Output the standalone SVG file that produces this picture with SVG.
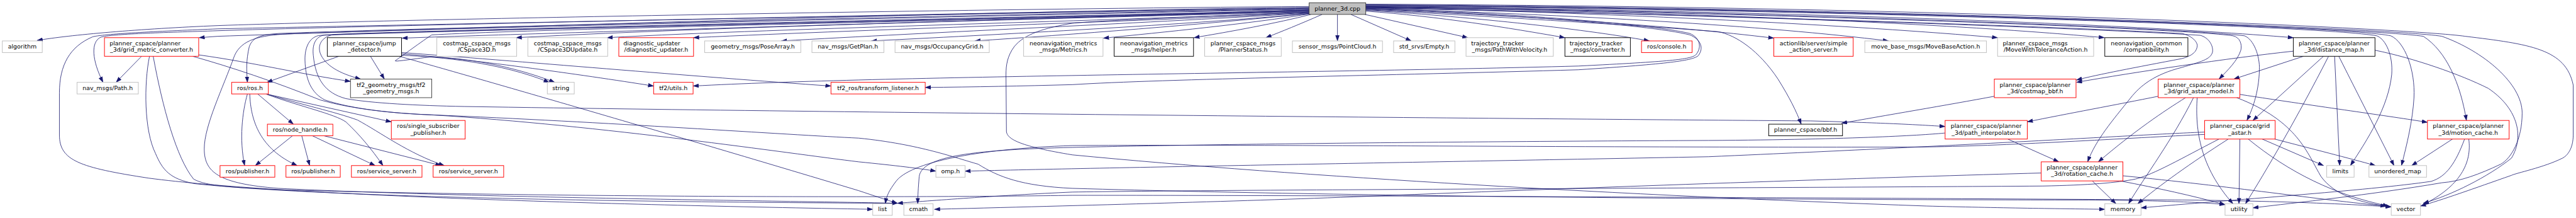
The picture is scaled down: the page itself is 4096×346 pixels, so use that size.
<svg xmlns="http://www.w3.org/2000/svg" width="4096" height="346" viewBox="0 0 4096 346">
<style>
.e{fill:none;stroke:#191970;stroke-width:1.1;marker-end:url(#a)}
rect.b{fill:#fff;stroke-width:1.3}
.g{stroke:#bfbfbf}
.r{stroke:#ff0000}
.k{stroke:#000}
.d{stroke:#404040}
text{font-family:"DejaVu Sans","Liberation Sans",sans-serif;font-size:12.8px;fill:#000;text-anchor:middle}
text.s{text-anchor:start}
</style>
<defs>
<marker id="a" viewBox="0 0 13 9" refX="12" refY="4.5" markerWidth="13" markerHeight="9" markerUnits="userSpaceOnUse" orient="auto"><path d="M0,0 L13,4.5 L0,9 z" fill="#191970"/></marker>
</defs>
<rect width="4096" height="346" fill="#fff"/>
<g transform="scale(0.73815)">
<g id="edges">
<path class="e" d="M2820,14 C2200,18 900,40 470,55 C300,62 150,75 80,87"/>
<path class="e" d="M2820,16 C2200,22 1000,60 470,78 L429,81"/>
<path class="e" d="M2820,17 C2200,25 800,55 470,66 C350,70 240,73 217,80 C195,90 198,130 222,177"/>
<path class="e" d="M2820,18 C2200,27 800,55 470,62 C350,67 230,72 200,79 C150,100 128,140 128,200 L128,290 C128,345 170,360 320,383 C600,420 1300,440 1880,450"/>
<path class="e" d="M2820,19 C2200,30 900,60 600,72 C560,75 545,80 537,100 C530,130 531,150 533,177"/>
<path class="e" d="M2820,20 C2200,32 900,62 620,73 C560,76 520,85 505,120 C480,190 440,270 440,320 C440,370 470,395 600,405 C1000,425 1700,432 1933,437"/>
<path class="e" d="M2820,21 C2300,40 1200,70 866,82"/>
<path class="e" d="M2820,22 C2300,35 1000,62 720,74 C695,78 683,95 690,115 C700,140 730,158 777,170"/>
<path class="e" d="M2820,22 C2300,37 1000,64 700,75 C680,78 672,95 675,120 C680,170 700,200 745,212 C800,222 900,227 1000,229 C2000,245 3500,257 3900,260 C4050,264 4130,268 4190,272"/>
<path class="e" d="M2820,23 C2300,38 1000,64 690,76 C668,78 656,100 657,130 C658,170 670,200 700,215 C760,235 850,244 930,247 C1300,270 1700,330 1850,348 C1930,356 1980,362 2016,368"/>
<path class="e" d="M2820,24 C2300,40 1200,60 930,75 C900,95 860,125 852,130 C846,134 880,128 930,122 C1000,125 1100,140 1195,177"/>
<path class="e" d="M2820,25 C2300,40 1600,55 1112,81"/>
<path class="e" d="M2820,26 C2400,45 1700,60 1308,81"/>
<path class="e" d="M2820,27 C2500,45 1900,62 1494,81"/>
<path class="e" d="M2820,28 C2500,48 2000,70 1683,88"/>
<path class="e" d="M2820,29 C2600,50 2200,72 1877,88"/>
<path class="e" d="M2820,29 C2600,52 2300,75 2100,88"/>
<path class="e" d="M2820,30 C2700,50 2500,70 2377,82"/>
<path class="e" d="M2824,31 C2750,50 2650,68 2572,81"/>
<path class="e" d="M2848,31 C2800,52 2760,68 2727,81"/>
<path class="e" d="M2881,31 L2881,88"/>
<path class="e" d="M2910,31 L3040,88"/>
<path class="e" d="M2940,31 L3162,81"/>
<path class="e" d="M2942,24 C3100,35 3250,60 3371,81"/>
<path class="e" d="M2942,22 C3150,35 3400,60 3553,88"/>
<path class="e" d="M2942,18 C3200,25 3550,50 3640,72 C3660,80 3668,100 3653,118 C3640,128 3600,132 3400,142 C2800,158 1900,163 1493,185"/>
<path class="e" d="M2942,19 C3200,28 3550,52 3640,75 C3662,84 3672,102 3658,120 C3645,130 3600,137 3400,150 C3000,162 2500,170 2310,182 C2200,185 2100,187 1993,188"/>
<path class="e" d="M2942,20 C3300,35 3600,55 3821,82"/>
<path class="e" d="M2942,18 C3400,32 3800,55 4068,88"/>
<path class="e" d="M2942,21 C3300,40 3600,60 3700,68 C3740,75 3790,110 3830,170 C3855,210 3870,240 3880,267"/>
<path class="e" d="M2942,16 C3500,28 4000,55 4303,81"/>
<path class="e" d="M2942,15 C3600,25 4200,50 4533,81"/>
<path class="e" d="M2942,14 C3700,22 4500,45 4940,81"/>
<path class="e" d="M2942,17 C3600,30 4400,55 4700,72 C4720,76 4735,90 4733,100 C4731,112 4722,120 4700,126 C4600,145 4520,160 4473,172"/>
<path class="e" d="M2942,16 C3600,30 4500,60 4740,76 C4760,82 4768,100 4766,112 C4762,128 4740,133 4700,145 C4640,160 4610,185 4590,210 C4550,260 4515,300 4497,348"/>
<path class="e" d="M2942,15 C3700,25 4700,60 4810,77 C4825,80 4830,95 4827,108 C4820,130 4800,150 4780,170"/>
<path class="e" d="M2942,14 C3800,25 4700,60 4835,77 C4855,85 4868,120 4867,150 C4866,200 4850,240 4840,259"/>
<path class="e" d="M2942,13 C3900,20 5000,55 5120,77 C5140,85 5155,120 5152,160 C5145,230 5100,300 5063,356"/>
<path class="e" d="M2942,12 C3900,18 5050,55 5150,77 C5180,90 5203,150 5200,210 C5197,260 5185,310 5173,356"/>
<path class="e" d="M2942,11 C4000,18 5100,60 5220,78 C5270,110 5300,180 5313,259"/>
<path class="e" d="M2942,10 C4000,16 5150,60 5260,78 C5350,110 5433,180 5433,243 C5433,300 5410,340 5387,353 C5340,375 5300,390 5260,393 C5100,420 4950,435 4853,447"/>
<path class="e" d="M2942,9 C4200,14 5200,62 5310,78 C5450,95 5527,105 5543,183 L5543,290 C5543,320 5530,335 5520,340 C5480,360 5420,372 5410,377 C5330,405 5260,430 5214,443"/>
<path class="e" d="M2820,26 C2600,35 2350,45 2310,50 C2250,60 2207,73 2185,100 C2170,120 2167,140 2167,160 L2168,283 C2170,300 2200,315 2310,333 C2800,380 3500,420 4150,443 C4300,447 4450,449 4534,450"/>
<path class="e" d="M305,121 L250,177"/>
<path class="e" d="M428,118 C550,135 650,160 755,175"/>
<path class="e" d="M322,121 C310,180 310,280 335,330 C350,365 365,385 420,395 C700,425 1400,435 1933,437"/>
<path class="e" d="M330,121 C350,230 380,340 417,385 C440,398 480,402 600,408 C1200,425 2000,425 2310,420 C3000,420 4400,428 4700,430 C4900,432 5050,438 5151,445"/>
<path class="e" d="M415,121 C500,145 590,175 690,215 C760,235 850,244 930,247 C1300,262 1700,290 1850,297 C1980,310 2060,340 2107,353 C2150,380 2200,400 2310,405 C3000,425 4000,430 4500,430 C4650,431 4750,435 4793,440"/>
<path class="e" d="M730,121 L575,177"/>
<path class="e" d="M798,121 L828,170"/>
<path class="e" d="M865,113 C1100,130 1500,165 1790,185"/>
<path class="e" d="M865,116 C1000,125 1250,160 1408,185"/>
<path class="e" d="M865,119 C950,122 1080,135 1183,177"/>
<path class="e" d="M860,121 C1000,160 1400,275 1850,410 C1880,420 1910,430 1933,437"/>
<path class="e" d="M533,202 C522,240 515,300 527,356"/>
<path class="e" d="M538,202 C540,260 560,320 640,356"/>
<path class="e" d="M555,202 L632,267"/>
<path class="e" d="M573,202 L843,262"/>
<path class="e" d="M575,203 C650,230 720,245 745,262 C775,290 800,320 825,356"/>
<path class="e" d="M577,203 C650,225 720,240 770,258 C820,285 880,330 957,356"/>
<path class="e" d="M630,292 L550,356"/>
<path class="e" d="M650,292 L667,356"/>
<path class="e" d="M673,292 L808,356"/>
<path class="e" d="M698,292 L950,356"/>
<path class="e" d="M4296,207 C4200,225 4050,250 3967,265"/>
<path class="e" d="M4940,110 C4800,125 4600,155 4473,177"/>
<path class="e" d="M4962,121 L4812,170"/>
<path class="e" d="M5005,121 L4853,259"/>
<path class="e" d="M5016,121 C4950,250 4880,370 4837,438"/>
<path class="e" d="M5029,121 L5040,356"/>
<path class="e" d="M5038,121 L5157,356"/>
<path class="e" d="M5116,108 C5200,125 5300,160 5360,190 C5420,230 5440,290 5410,340 C5360,380 5280,420 5220,437"/>
<path class="e" d="M4649,207 C4560,225 4450,245 4367,262"/>
<path class="e" d="M4708,210 C4660,240 4600,280 4520,348"/>
<path class="e" d="M4725,210 C4680,300 4620,380 4585,438"/>
<path class="e" d="M4733,210 C4728,280 4740,360 4810,438"/>
<path class="e" d="M4818,210 C4950,260 4970,330 5000,380 C5030,420 5080,435 5151,445"/>
<path class="e" d="M4825,203 C5000,230 5150,250 5229,263"/>
<path class="e" d="M4749,284 C4600,290 4300,310 3680,337 C3000,350 2400,360 2079,368"/>
<path class="e" d="M4749,289 C4600,296 4300,315 4140,316 C3500,318 2700,310 2310,313 C2100,320 1960,350 1930,390 C1915,410 1910,420 1907,438"/>
<path class="e" d="M4873,299 L5005,356"/>
<path class="e" d="M4825,299 L4823,438"/>
<path class="e" d="M4800,299 C4720,350 4650,400 4605,438"/>
<path class="e" d="M4843,299 C4930,370 5030,420 5145,443"/>
<path class="e" d="M4900,299 C4980,320 5060,340 5117,356"/>
<path class="e" d="M4780,299 C4700,340 4640,375 4600,385 C4560,393 4500,398 4400,400 C3800,404 2600,408 2310,413 C2150,420 2000,432 1933,437"/>
<path class="e" d="M4325,299 L4435,348"/>
<path class="e" d="M4190,286 C4150,290 4000,300 3680,302 C3000,305 2500,312 2310,317 C2100,322 1985,335 1980,380 C1978,405 1977,420 1977,438"/>
<path class="e" d="M4507,389 L4558,438"/>
<path class="e" d="M4397,372 C4100,380 3500,400 3000,420 C2700,432 2400,440 2013,450"/>
<path class="e" d="M4573,378 C4800,400 5000,430 5140,443"/>
<path class="e" d="M4567,389 C4650,405 4720,420 4793,440"/>
<path class="e" d="M5283,299 L5195,356"/>
<path class="e" d="M5318,299 C5325,350 5300,400 5220,440"/>
<path class="e" d="M5309,299 C5290,350 5270,380 5237,390 C5100,410 4800,430 4612,447"/>
</g>
<g id="n_root"><rect class="b d" x="2820" y="6" width="122" height="25" style="fill:#bfbfbf"/><text x="2881" y="22.5">planner_3d.cpp</text></g>
<g id="n_algorithm"><rect class="b g" x="5" y="88" width="86" height="25"/><text x="48" y="104.5">algorithm</text></g>
<g id="n_gmc"><rect class="b r" x="225" y="81" width="203" height="40"/><text class="s" x="236" y="97.3">planner_cspace/planner</text><text x="326.5" y="111.5">_3d/grid_metric_converter.h</text></g>
<g id="n_path"><rect class="b g" x="166" y="177" width="132" height="25"/><text x="232" y="193.5">nav_msgs/Path.h</text></g>
<g id="n_jump"><rect class="b k" x="705" y="81" width="160" height="40"/><text x="785" y="97.3">planner_cspace/jump</text><text x="785" y="111.5">_detector.h</text></g>
<g id="n_tf2gm"><rect class="b d" x="755" y="170" width="175" height="40"/><text x="842.5" y="186.3">tf2_geometry_msgs/tf2</text><text x="842.5" y="200.5">_geometry_msgs.h</text></g>
<g id="n_ros"><rect class="b r" x="499" y="177" width="79" height="25"/><text x="538.5" y="193.5">ros/ros.h</text></g>
<g id="n_nh"><rect class="b r" x="576" y="267" width="141" height="25"/><text x="646.5" y="283.5">ros/node_handle.h</text></g>
<g id="n_pub1"><rect class="b r" x="474" y="356" width="118" height="25"/><text x="533" y="372.5">ros/publisher.h</text></g>
<g id="n_pub2"><rect class="b r" x="616" y="356" width="117" height="25"/><text x="674.5" y="372.5">ros/publisher.h</text></g>
<g id="n_ss1"><rect class="b r" x="757" y="356" width="152" height="25"/><text x="833" y="372.5">ros/service_server.h</text></g>
<g id="n_ssp"><rect class="b r" x="843" y="259" width="159" height="40"/><text x="922.5" y="275.3">ros/single_subscriber</text><text x="922.5" y="289.5">_publisher.h</text></g>
<g id="n_ss2"><rect class="b r" x="933" y="356" width="152" height="25"/><text x="1009" y="372.5">ros/service_server.h</text></g>
<g id="n_cs3d"><rect class="b g" x="941" y="81" width="172" height="40"/><text x="1027" y="97.3">costmap_cspace_msgs</text><text x="1027" y="111.5">/CSpace3D.h</text></g>
<g id="n_cs3du"><rect class="b g" x="1137" y="81" width="172" height="40"/><text x="1223" y="97.3">costmap_cspace_msgs</text><text x="1223" y="111.5">/CSpace3DUpdate.h</text></g>
<g id="n_diag"><rect class="b r" x="1333" y="81" width="161" height="40"/><text class="s" x="1343" y="97.3">diagnostic_updater</text><text x="1413.5" y="111.5">/diagnostic_updater.h</text></g>
<g id="n_string"><rect class="b g" x="1179" y="177" width="58" height="25"/><text x="1208" y="193.5">string</text></g>
<g id="n_pose"><rect class="b g" x="1518" y="88" width="207" height="25"/><text x="1621.5" y="104.5">geometry_msgs/PoseArray.h</text></g>
<g id="n_getplan"><rect class="b g" x="1749" y="88" width="155" height="25"/><text x="1826.5" y="104.5">nav_msgs/GetPlan.h</text></g>
<g id="n_tf2u"><rect class="b r" x="1408" y="177" width="85" height="25"/><text x="1450.5" y="193.5">tf2/utils.h</text></g>
<g id="n_tf2ros"><rect class="b r" x="1790" y="177" width="203" height="25"/><text x="1891.5" y="193.5">tf2_ros/transform_listener.h</text></g>
<g id="n_occ"><rect class="b g" x="1928" y="88" width="203" height="25"/><text x="2029.5" y="104.5">nav_msgs/OccupancyGrid.h</text></g>
<g id="n_metrics"><rect class="b g" x="2205" y="81" width="171" height="40"/><text x="2290.5" y="97.3">neonavigation_metrics</text><text x="2290.5" y="111.5">_msgs/Metrics.h</text></g>
<g id="n_omp"><rect class="b g" x="2016" y="356" width="63" height="25"/><text x="2047.5" y="372.5">omp.h</text></g>
<g id="n_list"><rect class="b g" x="1880" y="438" width="42" height="25"/><text x="1901" y="454.5">list</text></g>
<g id="n_cmath"><rect class="b g" x="1947" y="438" width="63" height="25"/><text x="1978.5" y="454.5">cmath</text></g>
<g id="n_helper"><rect class="b k" x="2400" y="81" width="171" height="40"/><text x="2485.5" y="97.3">neonavigation_metrics</text><text x="2485.5" y="111.5">_msgs/helper.h</text></g>
<g id="n_pstat"><rect class="b g" x="2595" y="81" width="165" height="40"/><text x="2677.5" y="97.3">planner_cspace_msgs</text><text x="2677.5" y="111.5">/PlannerStatus.h</text></g>
<g id="n_pc"><rect class="b g" x="2784" y="88" width="194" height="25"/><text x="2881" y="104.5">sensor_msgs/PointCloud.h</text></g>
<g id="n_empty"><rect class="b g" x="3002" y="88" width="132" height="25"/><text x="3068" y="104.5">std_srvs/Empty.h</text></g>
<g id="n_pwv"><rect class="b g" x="3158" y="81" width="188" height="40"/><text class="s" x="3169" y="97.3">trajectory_tracker</text><text x="3252" y="111.5">_msgs/PathWithVelocity.h</text></g>
<g id="n_conv"><rect class="b k" x="3371" y="81" width="141" height="40"/><text class="s" x="3381" y="97.3">trajectory_tracker</text><text x="3441.5" y="111.5">_msgs/converter.h</text></g>
<g id="n_console"><rect class="b r" x="3536" y="88" width="109" height="25"/><text x="3590.5" y="104.5">ros/console.h</text></g>
<g id="n_sas"><rect class="b r" x="3821" y="81" width="171" height="40"/><text x="3906.5" y="97.3">actionlib/server/simple</text><text x="3906.5" y="111.5">_action_server.h</text></g>
<g id="n_mba"><rect class="b g" x="4017" y="88" width="262" height="25"/><text x="4148" y="104.5">move_base_msgs/MoveBaseAction.h</text></g>
<g id="n_bbf"><rect class="b k" x="3810" y="267" width="159" height="25"/><text x="3889.5" y="283.5">planner_cspace/bbf.h</text></g>
<g id="n_mwt"><rect class="b g" x="4303" y="81" width="207" height="40"/><text class="s" x="4314" y="97.3">planner_cspace_msgs</text><text x="4406.5" y="111.5">/MoveWithToleranceAction.h</text></g>
<g id="n_compat"><rect class="b k" x="4534" y="81" width="179" height="40"/><text x="4623.5" y="97.3">neonavigation_common</text><text x="4623.5" y="111.5">/compatibility.h</text></g>
<g id="n_cbbf"><rect class="b r" x="4296" y="170" width="176" height="40"/><text x="4384" y="186.3">planner_cspace/planner</text><text x="4384" y="200.5">_3d/costmap_bbf.h</text></g>
<g id="n_pi"><rect class="b r" x="4190" y="259" width="177" height="40"/><text x="4278.5" y="275.3">planner_cspace/planner</text><text x="4278.5" y="289.5">_3d/path_interpolator.h</text></g>
<g id="n_rc"><rect class="b r" x="4397" y="348" width="176" height="41"/><text x="4485" y="364.3">planner_cspace/planner</text><text x="4485" y="378.5">_3d/rotation_cache.h</text></g>
<g id="n_memory"><rect class="b g" x="4534" y="438" width="78" height="25"/><text x="4573" y="454.5">memory</text></g>
<g id="n_dm"><rect class="b k" x="4940" y="81" width="176" height="40"/><text x="5028" y="97.3">planner_cspace/planner</text><text x="5028" y="111.5">_3d/distance_map.h</text></g>
<g id="n_gam"><rect class="b r" x="4649" y="170" width="176" height="40"/><text x="4737" y="186.3">planner_cspace/planner</text><text x="4737" y="200.5">_3d/grid_astar_model.h</text></g>
<g id="n_ga"><rect class="b r" x="4749" y="259" width="152" height="40"/><text x="4825" y="275.3">planner_cspace/grid</text><text x="4825" y="289.5">_astar.h</text></g>
<g id="n_limits"><rect class="b g" x="5012" y="356" width="59" height="25"/><text x="5041.5" y="372.5">limits</text></g>
<g id="n_utility"><rect class="b g" x="4793" y="438" width="60" height="25"/><text x="4823" y="454.5">utility</text></g>
<g id="n_umap"><rect class="b g" x="5103" y="356" width="124" height="25"/><text x="5165" y="372.5">unordered_map</text></g>
<g id="n_mc"><rect class="b r" x="5229" y="259" width="176" height="40"/><text x="5317" y="275.3">planner_cspace/planner</text><text x="5317" y="289.5">_3d/motion_cache.h</text></g>
<g id="n_vector"><rect class="b g" x="5151" y="438" width="63" height="25"/><text x="5182.5" y="454.5">vector</text></g>
</g>
</svg>
